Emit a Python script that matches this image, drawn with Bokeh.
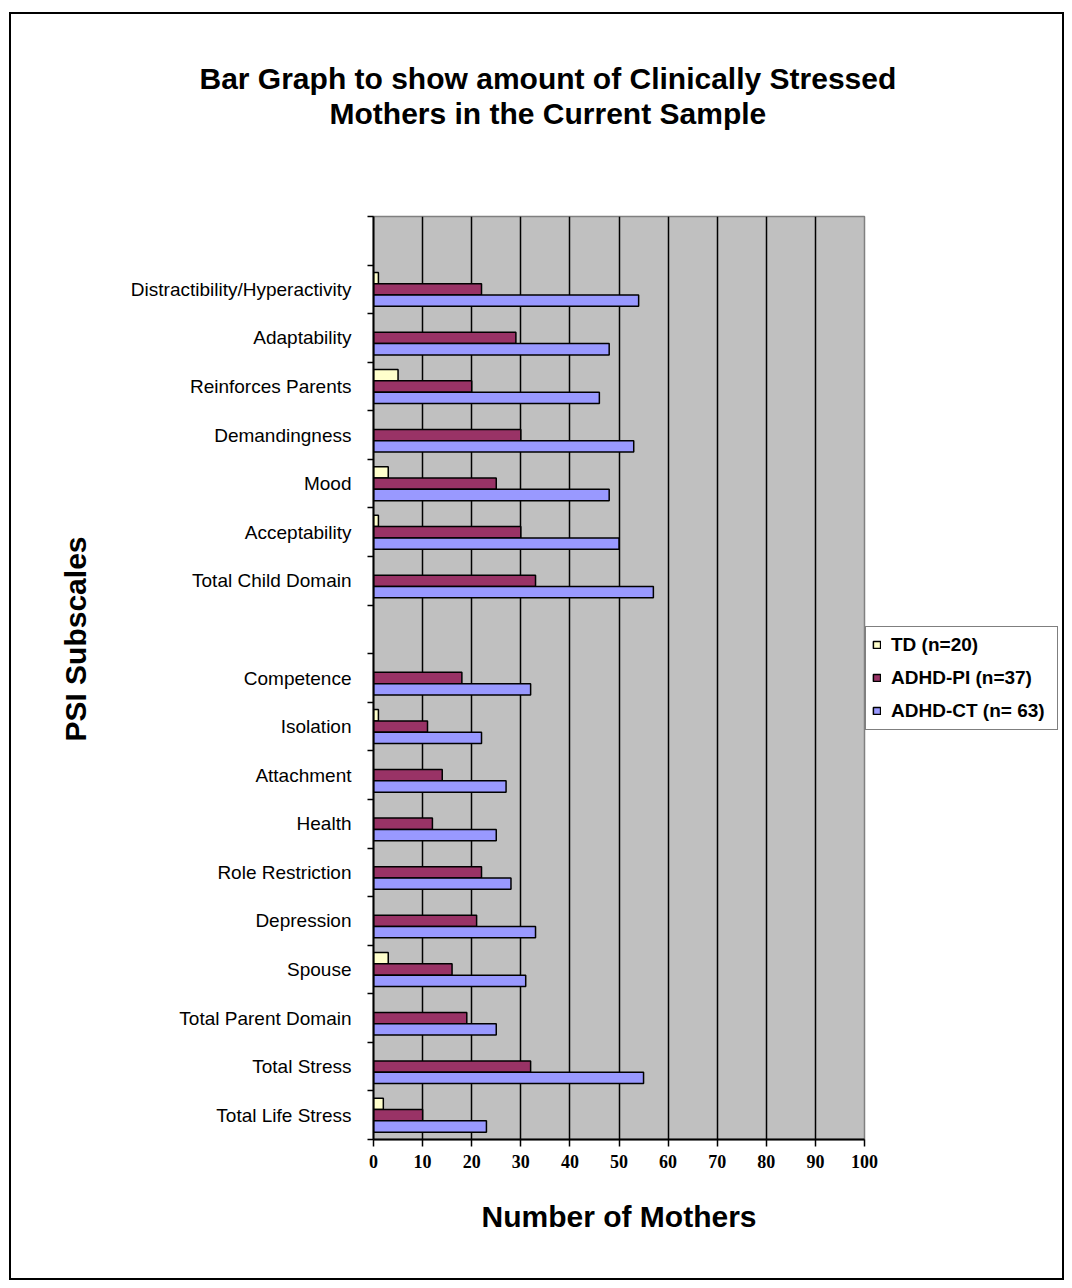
from bokeh.plotting import figure
from bokeh.models import (Range1d, FixedTicker, ColumnDataSource, Legend,
                          LegendItem, Title, LinearAxis, InlineStyleSheet)
from bokeh.embed import file_html
from bokeh.resources import INLINE

# ---------------- data ----------------
categories = ["", "Distractibility/Hyperactivity", "Adaptability", "Reinforces Parents",
              "Demandingness", "Mood", "Acceptability", "Total Child Domain", "",
              "Competence", "Isolation", "Attachment", "Health", "Role Restriction",
              "Depression", "Spouse", "Total Parent Domain", "Total Stress",
              "Total Life Stress"]
td_values = [None, 1, 0, 5, 0, 3, 1, 0, None, 0, 1, 0, 0, 0, 0, 3, 0, 0, 2]
pi_values = [None, 22, 29, 20, 30, 25, 30, 33, None, 18, 11, 14, 12, 22, 21, 16, 19, 32, 10]
ct_values = [None, 54, 48, 46, 53, 48, 50, 57, None, 32, 22, 27, 25, 28, 33, 31, 25, 55, 23]
series_names = ["TD (n=20)", "ADHD-PI (n=37)", "ADHD-CT (n= 63)"]
series_colors = ["#FFFFCC", "#993366", "#9999FF"]
x_ticks = [0, 10, 20, 30, 40, 50, 60, 70, 80, 90, 100]
title_lines = ["Bar Graph to show amount of Clinically Stressed",
               "Mothers in the Current Sample"]
x_title = "Number of Mothers"
y_title = "PSI Subscales"

# ---------------- layout (pixels) ----------------
W, H = 1072, 1288
FL, FR, FT, FB = 373, 864, 216, 1139
n = len(categories)
XMIN, XMAX = x_ticks[0], x_ticks[-1]
FONT = "Liberation Sans"
TSIZE = "30px"

p = figure(frame_width=FR - FL, frame_height=FB - FT,
           x_range=Range1d(XMIN, XMAX), y_range=Range1d(n, 0),
           output_backend="svg", toolbar_location=None,
           min_border_left=FL, min_border_right=W - FR,
           min_border_top=FT, min_border_bottom=H - FB)
p.background_fill_color = "#C0C0C0"
p.border_fill_color = "white"
p.outline_line_color = "#808080"
p.outline_line_width = 1.5
p.stylesheets = [InlineStyleSheet(css=(
    ":host::after { content: ''; position: absolute; left: 9px; top: 12px; "
    "width: 1051px; height: 1264px; border: 2px solid black; "
    "pointer-events: none; z-index: 100; }"))]

# bars
bar_h = 0.233
renderers = []
for k, (vals, color) in enumerate(zip([td_values, pi_values, ct_values], series_colors)):
    off = (k - 1) * bar_h
    ys, rs = [], []
    for i, v in enumerate(vals):
        if v:
            ys.append(i + 0.5 + off)
            rs.append(v)
    src = ColumnDataSource(dict(y=ys, right=rs))
    r = p.hbar(y="y", left=0, right="right", height=bar_h, source=src,
               fill_color=color, line_color="black", line_width=1.5)
    renderers.append(r)

# grid
p.ygrid.grid_line_color = None
p.xgrid.ticker = FixedTicker(ticks=x_ticks[1:-1])
p.xgrid.grid_line_color = "black"
p.xgrid.grid_line_width = 1.5

# x axis
xa = p.xaxis[0]
xa.ticker = FixedTicker(ticks=x_ticks)
xa.axis_line_width = 2
xa.major_tick_in = 0
xa.major_tick_out = 7
xa.major_tick_line_width = 1.5
xa.minor_tick_line_color = None
xa.major_label_text_font = "Liberation Serif"
xa.major_label_text_font_style = "bold"
xa.major_label_text_font_size = "18px"
xa.major_label_text_color = "black"
xa.major_label_standoff = 8
xa.axis_label = x_title
xa.axis_label_text_font = FONT
xa.axis_label_text_font_style = "bold"
xa.axis_label_text_font_size = TSIZE
xa.axis_label_text_color = "black"
xa.axis_label_standoff = 29

# y axis
ya = p.yaxis[0]
ya.ticker = FixedTicker(ticks=[i + 0.5 for i in range(n)], minor_ticks=list(range(n + 1)))
ya.major_label_overrides = {i + 0.5: c for i, c in enumerate(categories)}
ya.axis_line_width = 2
ya.major_tick_in = 0
ya.major_tick_out = 0
ya.major_tick_line_color = None
ya.minor_tick_in = 0
ya.minor_tick_out = 6
ya.minor_tick_line_color = "black"
ya.minor_tick_line_width = 1.5
ya.major_label_text_font = FONT
ya.major_label_text_font_size = "19px"
ya.major_label_text_color = "black"
ya.major_label_standoff = 16

# y title as a left-panel title, shifted upward like the original
p.add_layout(Title(text=y_title, align="right", offset=320, standoff=70,
                   vertical_align="middle", text_font=FONT, text_font_style="bold",
                   text_font_size=TSIZE, text_color="black"), "left")

# spacer between frame and title (invisible axis with a blank label)
spacer = LinearAxis(ticker=FixedTicker(ticks=[]), axis_line_color=None,
                    major_tick_line_color=None, minor_tick_line_color=None,
                    major_tick_out=0, major_tick_in=0, minor_tick_out=0,
                    axis_label=" ", axis_label_text_font_size="10px",
                    axis_label_standoff=73)
p.add_layout(spacer, "above")

# title lines (line 2 closer to frame, then line 1)
p.add_layout(Title(text=title_lines[1], align="left", offset=-44, standoff=0,
                   text_font=FONT, text_font_style="bold", text_font_size=TSIZE,
                   text_color="black"), "above")
p.add_layout(Title(text=title_lines[0], align="left", offset=-174, standoff=0,
                   text_font=FONT, text_font_style="bold", text_font_size=TSIZE,
                   text_color="black"), "above")

# legend
legend = Legend(items=[LegendItem(label=nm, renderers=[r])
                       for nm, r in zip(series_names, renderers)],
                location="center_left")
legend.border_line_color = "black"
legend.border_line_width = 1.5
legend.background_fill_color = "white"
legend.label_text_font = FONT
legend.label_text_font_style = "bold"
legend.label_text_font_size = "19px"
legend.label_text_color = "black"
legend.glyph_width = 9
legend.glyph_height = 9
legend.label_height = 24
legend.spacing = 9
legend.padding = 6
legend.margin = 1
legend.label_standoff = 10
legend.label_width = 160
p.add_layout(legend, "right")

open("out.html", "w").write(file_html(p, INLINE))
